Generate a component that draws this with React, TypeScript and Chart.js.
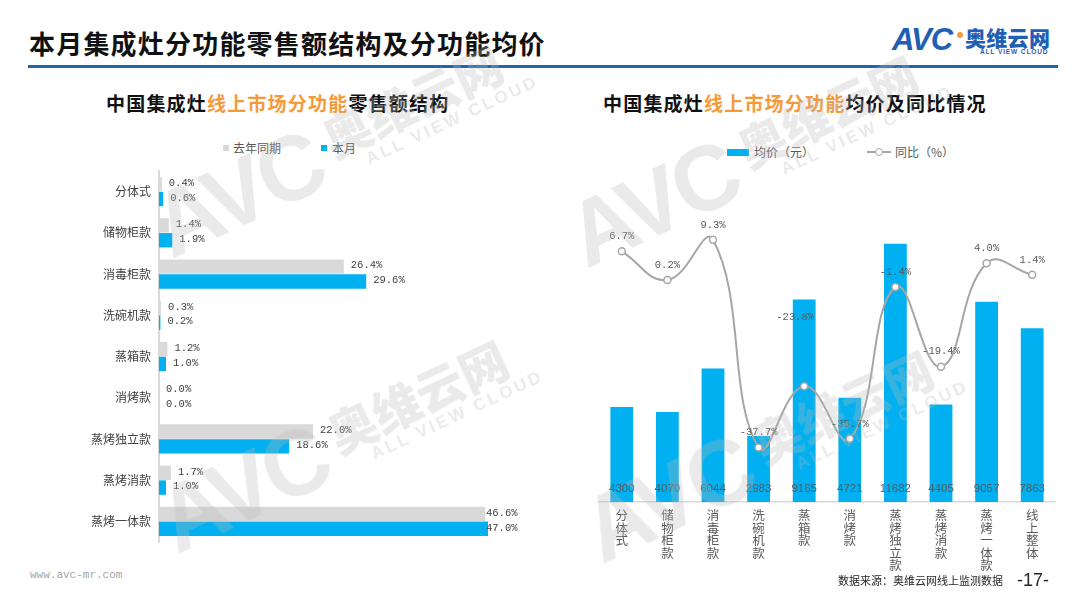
import React, { useEffect, useRef } from "react";
import { Chart, registerables } from "chart.js";

Chart.register(...registerables);

// ---------------- data ----------------
const structCategories = ["分体式", "储物柜款", "消毒柜款", "洗碗机款", "蒸箱款", "消烤款", "蒸烤独立款", "蒸烤消款", "蒸烤一体款"];
const lastYearShare = [0.4, 1.4, 26.4, 0.3, 1.2, 0.0, 22.0, 1.7, 46.6];
const thisMonthShare = [0.6, 1.9, 29.6, 0.2, 1.0, 0.0, 18.6, 1.0, 47.0];

const priceCategories = ["分体式", "储物柜款", "消毒柜款", "洗碗机款", "蒸箱款", "消烤款", "蒸烤独立款", "蒸烤消款", "蒸烤一体款", "线上整体"];
const avgPrice = [4300, 4070, 6044, 2983, 9165, 4721, 11682, 4405, 9057, 7863];
const yoyChange = [6.7, 0.2, 9.3, -37.7, -23.8, -35.7, -1.4, -19.4, 4.0, 1.4];

const CJK = '"Noto Sans CJK SC", "Noto Sans", sans-serif';
const NUM = '"Liberation Mono", "DejaVu Sans Mono", monospace';
const BLUE = "#00b0f0";
const GRAY = "#d9d9d9";
const ORANGE = "#f59a3b";

// ---------------- left chart ----------------
function ShareChart() {
  const ref = useRef<HTMLCanvasElement | null>(null);
  useEffect(() => {
    if (!ref.current) return;
    const labelPlugin = {
      id: "shareLabels",
      afterDatasetsDraw(chart: any) {
        const ctx = chart.ctx;
        const area = chart.chartArea;
        ctx.save();
        ctx.font = `10.5px ${NUM}`;
        ctx.fillStyle = "#404040";
        ctx.textBaseline = "middle";
        ctx.textAlign = "left";
        chart.data.datasets.forEach((ds: any, di: number) => {
          const meta = chart.getDatasetMeta(di);
          meta.data.forEach((bar: any, i: number) => {
            const v = ds.data[i] as number;
            const x = Math.min(bar.x + 7, area.right - 23);
            ctx.fillText(v.toFixed(1) + "%", x, bar.y - 1);
          });
        });
        ctx.restore();
      },
    };
    const chart = new Chart(ref.current, {
      type: "bar",
      data: {
        labels: structCategories,
        datasets: [
          { label: "去年同期", data: lastYearShare, backgroundColor: GRAY, categoryPercentage: 0.72, barPercentage: 0.97 },
          { label: "本月", data: thisMonthShare, backgroundColor: BLUE, categoryPercentage: 0.72, barPercentage: 0.97 },
        ],
      },
      options: {
        indexAxis: "y",
        animation: false,
        responsive: false,
        maintainAspectRatio: false,
        layout: { padding: { left: 0, right: 51, top: 16, bottom: 16 } },
        plugins: { legend: { display: false }, tooltip: { enabled: false } },
        scales: {
          x: { display: false, min: 0, max: 50 },
          y: {
            afterFit: (s: any) => {
              s.width = 69;
            },
            grid: { display: false, drawTicks: false },
            border: { display: true, color: "#d9d9d9", width: 2 },
            ticks: { color: "#404040", font: { size: 12, family: CJK }, padding: 8 },
          },
        },
      } as any,
      plugins: [labelPlugin],
    });
    return () => chart.destroy();
  }, []);
  return <canvas ref={ref} width={470} height={403} style={{ position: "absolute", left: 90, top: 154.5, width: 470, height: 403 }} />;
}

// ---------------- right chart ----------------
function PriceChart() {
  const ref = useRef<HTMLCanvasElement | null>(null);
  useEffect(() => {
    if (!ref.current) return;
    const labelPlugin = {
      id: "priceLabels",
      afterDatasetsDraw(chart: any) {
        const ctx = chart.ctx;
        const area = chart.chartArea;
        ctx.save();
        ctx.textAlign = "center";
        ctx.textBaseline = "middle";
        // bar labels inside bottom of bars
        ctx.font = `11.5px "Liberation Sans", sans-serif`;
        ctx.fillStyle = "#595959";
        const barMeta = chart.getDatasetMeta(0);
        barMeta.data.forEach((bar: any, i: number) => {
          ctx.fillText(String(avgPrice[i]), bar.x, area.bottom - 13);
        });
        // line labels (label of 蒸箱款 sits higher, as in the source)
        ctx.font = `10.5px ${NUM}`;
        ctx.fillStyle = "#595959";
        const lineMeta = chart.getDatasetMeta(1);
        lineMeta.data.forEach((pt: any, i: number) => {
          const dy = i === 4 ? 69 : 15;
          const dx = i === 4 ? -9 : 0;
          ctx.fillText(yoyChange[i].toFixed(1) + "%", pt.x + dx, pt.y - dy);
        });
        ctx.restore();
      },
    };
    const chart = new Chart(ref.current, {
      type: "bar",
      data: {
        labels: priceCategories.map((c) => c.split("")),
        datasets: [
          {
            type: "bar",
            label: "均价（元）",
            data: avgPrice,
            backgroundColor: BLUE,
            categoryPercentage: 1,
            barPercentage: 0.5,
            yAxisID: "y",
            order: 2,
          },
          {
            type: "line",
            label: "同比（%）",
            data: yoyChange,
            borderColor: "#a6a6a6",
            borderWidth: 2,
            tension: 0.45,
            pointRadius: 3.5,
            pointBackgroundColor: "#ffffff",
            pointBorderColor: "#a6a6a6",
            pointBorderWidth: 1.5,
            yAxisID: "y2",
            order: 1,
          },
        ],
      },
      options: {
        animation: false,
        responsive: false,
        maintainAspectRatio: false,
        layout: { padding: { left: 9, right: 10, top: 12.5, bottom: 0 } },
        plugins: { legend: { display: false }, tooltip: { enabled: false } },
        scales: {
          x: {
            afterFit: (s: any) => {
              s.height = 78;
            },
            grid: { display: false, drawTicks: false },
            border: { display: true, color: "#d9d9d9", width: 1.5 },
            ticks: {
              color: "#595959",
              font: { size: 12.5, family: CJK, lineHeight: 1 },
              padding: 7,
              maxRotation: 0,
              autoSkip: false,
            },
          },
          y: { display: false, min: 0, max: 14000 },
          y2: { display: false, min: -50, max: 20 },
        },
      } as any,
      plugins: [labelPlugin],
    });
    return () => chart.destroy();
  }, []);
  return <canvas ref={ref} width={475} height={400} style={{ position: "absolute", left: 590, top: 180, width: 475, height: 400 }} />;
}

// ---------------- decorations ----------------
function Watermark({ cx, cy }: { cx: number; cy: number }) {
  const w = 380;
  const h = 110;
  const col = "rgba(185,185,185,0.3)";
  return (
    <div
      style={{
        position: "absolute",
        left: cx - w / 2,
        top: cy - h / 2,
        width: w,
        height: h,
        transform: "rotate(-25deg)",
        display: "flex",
        alignItems: "center",
        pointerEvents: "none",
        color: col,
        zIndex: 5,
        whiteSpace: "nowrap",
      }}
    >
      <span style={{ fontFamily: '"Liberation Sans", sans-serif', fontWeight: 900, fontSize: 92, letterSpacing: -4, lineHeight: 1 }}>AVC</span>
      <div style={{ display: "flex", flexDirection: "column", marginLeft: 14 }}>
        <span style={{ fontFamily: CJK, fontWeight: 900, fontSize: 48, lineHeight: 1.05, whiteSpace: "nowrap" }}>奥维云网</span>
        <span style={{ fontFamily: '"Liberation Sans", sans-serif', fontWeight: 700, fontSize: 17, letterSpacing: 3, lineHeight: 1.3, marginLeft: 30, whiteSpace: "nowrap" }}>ALL VIEW CLOUD</span>
      </div>
    </div>
  );
}

function SubTitle({ left, pre, mid, post }: { left: number; pre: string; mid: string; post: string }) {
  return (
    <div style={{ position: "absolute", left, top: 90, fontFamily: CJK, fontWeight: 700, fontSize: 19, letterSpacing: 1.2, color: "#111", whiteSpace: "nowrap", lineHeight: "26px" }}>
      {pre}
      <span style={{ color: ORANGE }}>{mid}</span>
      {post}
    </div>
  );
}

export default function App() {
  const txt = { position: "absolute" as const, whiteSpace: "nowrap" as const, fontFamily: CJK };
  return (
    <div style={{ position: "fixed", left: 0, top: 0, width: 1080, height: 608, background: "#fff", overflow: "hidden" }}>
      {/* Title */}
      <div style={{ ...txt, left: 29, top: 26, fontSize: 26, fontWeight: 700, letterSpacing: 1.2, color: "#111", lineHeight: "34px" }}>
        本月集成灶分功能零售额结构及分功能均价
      </div>
      <div style={{ position: "absolute", left: 28, top: 65, width: 1030, height: 3, background: "#1e64b4" }} />

      {/* Logo */}
      <div style={{ position: "absolute", left: 892, top: 22, color: "#1f5fb4", fontFamily: '"Liberation Sans", sans-serif', fontWeight: 900, fontStyle: "italic", fontSize: 31, letterSpacing: -1, lineHeight: "36px" }}>
        AVC
      </div>
      <div style={{ position: "absolute", left: 957, top: 32, width: 6, height: 6, borderRadius: 3, background: "#f39c3c" }} />
      <div style={{ ...txt, left: 965, top: 24, color: "#1f5fb4", fontWeight: 900, fontSize: 21, lineHeight: "26px", letterSpacing: 0.3 }}>奥维云网</div>
      <div style={{ ...txt, left: 980, top: 48, color: "#1f5fb4", fontFamily: '"Liberation Sans", sans-serif', fontWeight: 700, fontSize: 6.5, letterSpacing: 0.9 }}>ALL VIEW CLOUD</div>

      {/* Subtitles */}
      <SubTitle left={106} pre="中国集成灶" mid="线上市场分功能" post="零售额结构" />
      <SubTitle left={603} pre="中国集成灶" mid="线上市场分功能" post="均价及同比情况" />

      {/* Left legend */}
      <div style={{ position: "absolute", left: 223, top: 145, width: 6, height: 6, background: GRAY }} />
      <div style={{ ...txt, left: 233, top: 140, fontSize: 12, color: "#595959", lineHeight: "16px" }}>去年同期</div>
      <div style={{ position: "absolute", left: 321, top: 145, width: 6, height: 6, background: BLUE }} />
      <div style={{ ...txt, left: 332, top: 140, fontSize: 12, color: "#595959", lineHeight: "16px" }}>本月</div>

      {/* Right legend */}
      <div style={{ position: "absolute", left: 727, top: 149, width: 22, height: 7, background: BLUE }} />
      <div style={{ ...txt, left: 754, top: 144, fontSize: 12, color: "#595959", lineHeight: "16px" }}>均价（元）</div>
      <div style={{ position: "absolute", left: 867, top: 151, width: 24, height: 2, background: "#a6a6a6" }} />
      <div style={{ position: "absolute", left: 875, top: 148, width: 6, height: 6, borderRadius: 4, border: "1.5px solid #a6a6a6", background: "#fff" }} />
      <div style={{ ...txt, left: 895, top: 144, fontSize: 12, color: "#595959", lineHeight: "16px" }}>同比（%）</div>

      <ShareChart />
      <PriceChart />

      {/* Footer */}
      <div style={{ ...txt, left: 30, top: 569, fontFamily: NUM, fontSize: 11, color: "#a6a6a6" }}>www.avc-mr.com</div>
      <div style={{ ...txt, left: 838, top: 572, fontSize: 11, color: "#262626", lineHeight: "16px" }}>数据来源：奥维云网线上监测数据</div>
      <div style={{ ...txt, left: 1017, top: 569, fontFamily: '"Liberation Sans", sans-serif', fontSize: 18, color: "#262626", lineHeight: "22px" }}>-17-</div>

      {/* Watermarks */}
      <Watermark cx={330} cy={150} />
      <Watermark cx={745} cy={160} />
      <Watermark cx={335} cy={445} />
      <Watermark cx={760} cy={455} />
    </div>
  );
}
